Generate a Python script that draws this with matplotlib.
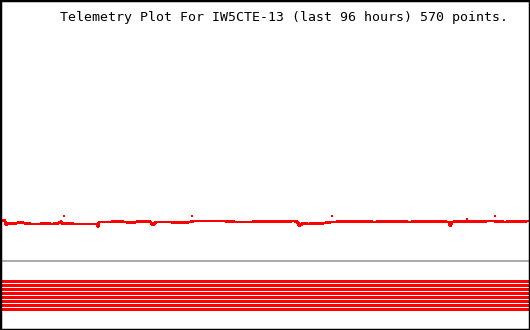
#!/usr/bin/env python3
"""telemetry plot for IW5CTE-13, last 96 hours"""
import matplotlib.pyplot as plt

# hours before now, and the analog channel
hours = [-96.0, -95.46, -95.09, -94.91, -94.55, -93.28, -92.56, -91.65,
         -90.75, -90.38, -88.75, -87.85, -86.58, -85.49, -84.95, -84.77,
         -84.05, -82.42, -80.60, -78.43, -78.25, -78.07, -76.08,
         -74.63, -73.36, -71.73, -71.00, -68.83, -68.29, -67.74, -65.21,
         -63.40, -61.58, -60.86, -57.96, -55.25, -53.43, -50.72,
         -48.00, -45.28, -42.57, -42.02, -41.84, -41.12, -40.21, -38.40,
         -37.13, -36.05, -35.50, -33.51, -30.79, -28.08, -26.26,
         -24.45, -21.74, -19.93, -17.21, -14.67, -14.49, -14.13, -12.68,
         -11.23, -9.96, -7.25, -6.52, -5.98, -4.53, -2.72, 0.0]
analog = [109, 110, 109, 105, 106.5, 106.5, 107.5, 107,
          106.5, 106, 106, 106.5, 106, 106.5, 108.5, 106.5,
          106.5, 106, 106, 106, 103.5, 108, 108,
          108.5, 108, 107.5, 108.5, 108.5, 105, 108, 108,
          107.5, 108, 109, 109, 109, 108, 108,
          108.5, 108.5, 109, 107.5, 104.5, 106.5, 106, 106.5,
          107, 108, 108, 108.5, 108.5, 108, 108.5,
          108.5, 108, 108.5, 108.5, 108, 104, 108, 108.5,
          108.5, 108.5, 109, 109, 108.5, 108, 108.5, 109]

# lone spikes that sit apart from the trace
spike_hours = [-84.41, -61.22, -35.87, -11.41, -6.34]
spike_vals = [114, 114, 114, 111, 114.5]

# second channel (flat) and the eight digital bits
channel2 = 69
bits = [48.5, 44.5, 40.5, 36.5, 32.5, 28.5, 24.5, 20.5]

title = 'Telemetry Plot For IW5CTE-13 (last 96 hours) 570 points.'

fig = plt.figure(figsize=(5.3, 3.3), dpi=100)
ax = fig.add_axes([0, 0, 1, 1])

ax.plot(hours, analog, color='#ff0000', lw=1.3, antialiased=False)
ax.plot(spike_hours, spike_vals, ls='none', marker='s', ms=1.9,
        mfc='#ff0000', mec='#ff0000', mew=0)
ax.axhline(channel2, color='#aaaaaa', lw=1.44, snap=False)
for b in bits:
    ax.axhline(b, color='#ff0000', lw=2.16, snap=False)

ax.set_xlim(-96, 0)
ax.set_ylim(0, 330)
ax.set_xticks([])
ax.set_yticks([])
for s in ax.spines.values():
    s.set_color('black')
    s.set_linewidth(2.5)

fig.text(283.5 / 530, 1 - 17 / 330, title, ha='center', va='center',
         family='DejaVu Sans Mono', fontsize=9.5)

fig.savefig('out.png', dpi=100)
